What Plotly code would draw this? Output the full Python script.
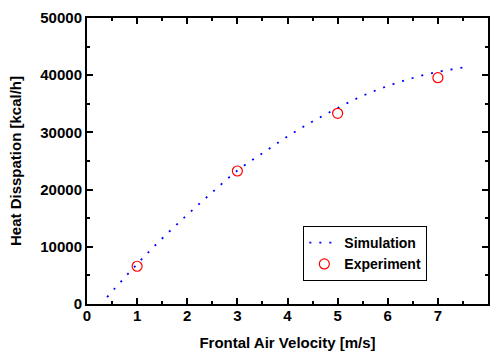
import plotly.graph_objects as go

sim_x = [0.4, 1.0, 1.5, 2.0, 2.5, 3.0, 3.5, 4.0, 4.5, 5.0, 5.5, 6.0, 6.5, 7.0, 7.5]
sim_y = [1200, 7000, 11450, 15600, 19530, 23330, 26360, 29290, 31910, 34250, 36400, 38110, 39510, 40580, 41330]

exp_x = [1, 3, 5, 7]
exp_y = [6600, 23250, 33340, 39560]

FONT = "Arial, Liberation Sans, sans-serif"

fig = go.Figure()
fig.add_trace(go.Scatter(
    x=sim_x, y=sim_y, mode="lines", name="Simulation",
    line=dict(color="#0000ff", width=1.8, dash="2px,8px", shape="spline"),
))
fig.add_trace(go.Scatter(
    x=exp_x, y=exp_y, mode="markers", name="Experiment",
    marker=dict(symbol="circle-open", size=10, color="#ff0000", line=dict(width=1.2, color="#ff0000")),
))

axis_common = dict(
    showline=True, linecolor="black", linewidth=2, mirror="ticks",
    ticks="inside", ticklen=6, tickwidth=1.5, tickcolor="black",
    showgrid=False, zeroline=False,
    tickfont=dict(family=FONT, size=15, color="black", weight="bold"),
)

fig.update_layout(
    width=491, height=351,
    margin=dict(l=87, r=3, t=18, b=47, autoexpand=False),
    paper_bgcolor="white", plot_bgcolor="white",
    font=dict(family=FONT, color="black"),
    showlegend=True,
    legend=dict(
        x=0.539, y=0.273, xanchor="left", yanchor="top",
        bordercolor="black", borderwidth=1.2, bgcolor="white",
        font=dict(family=FONT, size=14, color="black", weight="bold"),
        tracegroupgap=0, itemwidth=30,
    ),
)
fig.update_xaxes(
    range=[0, 8], dtick=1, ticklabelstandoff=-3, **axis_common,
    minor=dict(dtick=0.5, ticks="inside", ticklen=3, tickwidth=1.5, tickcolor="black"),
    title=dict(text="Frontal Air Velocity [m/s]", standoff=16,
               font=dict(family=FONT, size=15, color="black", weight="bold")),
)
fig.update_yaxes(
    range=[0, 50000], dtick=10000, tickformat="d", **axis_common,
    minor=dict(dtick=5000, ticks="inside", ticklen=3, tickwidth=1.5, tickcolor="black"),
    title=dict(text="Heat Disspation [kcal/h]", standoff=15,
               font=dict(family=FONT, size=15, color="black", weight="bold")),
)

fig.write_html("out.html", config={"displayModeBar": False},
               post_script="document.body.style.margin='0';")
